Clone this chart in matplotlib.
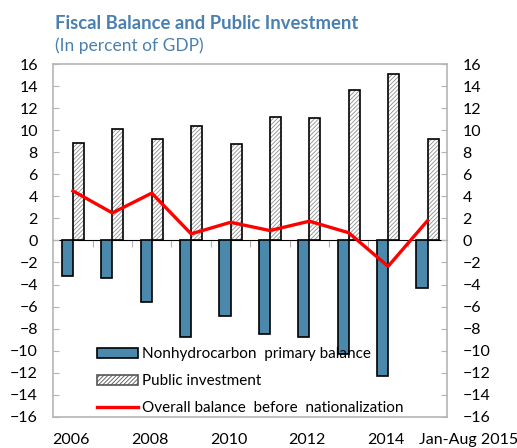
import matplotlib.pyplot as plt
import numpy as np
from matplotlib.patches import Patch

years = ["2006", "2007", "2008", "2009", "2010", "2011", "2012", "2013", "2014", "Jan-Aug 2015"]
nonhydro_primary = [-3.25, -3.4, -5.6, -8.75, -6.85, -8.5, -8.75, -10.3, -12.35, -4.3]
public_investment = [8.85, 10.1, 9.2, 10.4, 8.75, 11.25, 11.1, 13.65, 15.1, 9.2]
overall_balance = [4.5, 2.5, 4.3, 0.6, 1.65, 0.9, 1.75, 0.7, -2.35, 1.8]
shown_labels = ["2006", "2008", "2010", "2012", "2014", "Jan-Aug 2015"]

plt.rcParams['font.family'] = ['Lato', 'DejaVu Sans']
plt.rcParams['hatch.linewidth'] = 0.6

title_col = '#4a80b0'
blue = '#4a89ab'
grey = '#b5b5b5'
hatch = '////////'

fig = plt.figure(figsize=(5.17, 4.48), dpi=100)
ax = fig.add_axes([0.103, 0.07, 0.762, 0.7865])

x = np.arange(len(years))
w = 0.28

ax.bar(x - 0.14, nonhydro_primary, w, color=blue, edgecolor='black', linewidth=1.2, zorder=3)
# hatch drawn in grey first, then a black outline on top
ax.bar(x + 0.14, public_investment, w, color='white', edgecolor='#8f8f8f', hatch=hatch,
       linewidth=0, zorder=3)
ax.bar(x + 0.14, public_investment, w, fill=False, edgecolor='black', linewidth=1.2, zorder=3)
line, = ax.plot(x, overall_balance, color='#ff0000', lw=2.4, zorder=4)

ax.set_xlim(-0.5, len(years) - 0.5)
ax.set_ylim(-16, 16)
ax.set_yticks(np.arange(-16, 17, 2))
ax.tick_params(axis='y', direction='in', length=4, color=grey, labelsize=11.5,
               right=True, labelright=True)
ax.tick_params(axis='y', which='major', pad=8)
for t in ax.yaxis.get_major_ticks():
    t.set_pad(8)
ax.yaxis.set_tick_params(pad=11, left=True)
ax.set_xticks([])
for s in ax.spines.values():
    s.set_color(grey)
    s.set_linewidth(1.2)

# zero line with tick marks between categories
zx = ax.secondary_xaxis(0.5)
zx.set_xticks(x[:-1] + 0.5)
zx.set_xticklabels([])
zx.tick_params(direction='in', length=5, color=grey)
zx.spines['bottom'].set_color(grey)
zx.spines['bottom'].set_linewidth(1.2)

# year labels under the frame
for lab in shown_labels:
    i = years.index(lab)
    xpos = i + 1.05 if lab.startswith('Jan') else i - 0.05
    ax.text(xpos, -0.065, lab, transform=ax.get_xaxis_transform(), ha='center', va='center',
            fontsize=11.5, clip_on=False)

handles = [Patch(facecolor=blue, edgecolor='black', linewidth=1.2),
           Patch(facecolor='white', edgecolor='#555555', hatch=hatch, linewidth=1.2),
           line]
labels = ['Nonhydrocarbon  primary balance', 'Public investment',
          'Overall balance  before  nationalization']
ax.legend(handles, labels, loc='lower left', bbox_to_anchor=(0.075, -0.035), frameon=False,
          fontsize=11, handlelength=2.7, handleheight=0.7, handletextpad=0.3, labelspacing=0.85)

fig.text(0.106, 0.948, 'Fiscal Balance and Public Investment', color=title_col,
         fontsize=13.3, fontweight='bold', va='center')
fig.text(0.106, 0.897, '(In percent of GDP)', color=title_col, fontsize=12.5, va='center')

fig.savefig('out.png', dpi=100)
